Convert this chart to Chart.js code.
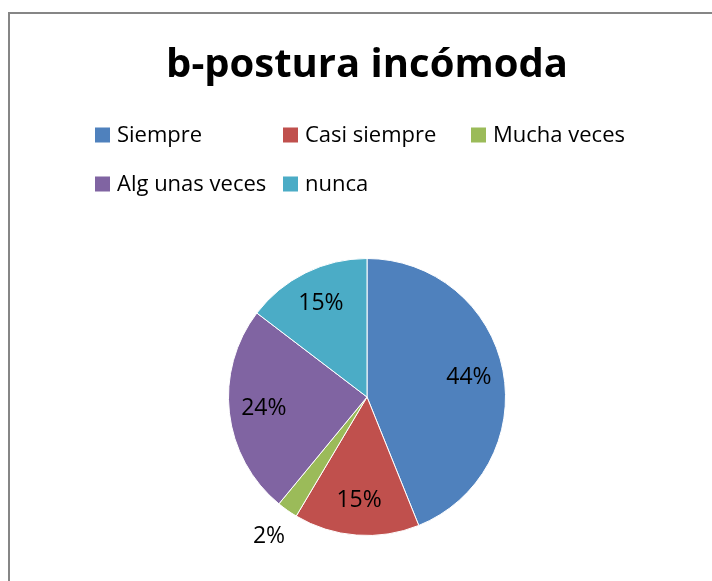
<!DOCTYPE html>
<html lang="es">
<head>
    <meta charset="UTF-8">
    <title>b-postura incómoda</title>
    <script src="https://cdn.jsdelivr.net/npm/chart.js"></script>
    <style>
        body { margin: 0; background: #fff; overflow: hidden; }
        #frame { position: absolute; left: 8px; top: 12px; width: 760px; height: 640px;
                 border-left: 2px solid #868686; border-top: 2px solid #868686; }
        #chart { position: absolute; left: 0; top: 0; }
    </style>
</head>
<body>
    <div id="frame"></div>
    <canvas id="chart" width="712" height="581"></canvas>

    <script>
        // answers (counts)
        const categories = ['Siempre', 'Casi siempre', 'Mucha veces', 'Alg unas veces', 'nunca'];
        const counts = [18, 6, 1, 10, 6];
        const colors = ['#4F81BD', '#C0504D', '#9BBB59', '#8064A2', '#4BACC6'];

        const total = counts.reduce((a, b) => a + b, 0);

        // excel-like legend: fixed columns, wraps after three
        const gridLegend = {
            id: 'gridLegend',
            afterDraw(chart) {
                const items = Chart.overrides.pie.plugins.legend.labels.generateLabels(chart);
                const ctx = chart.ctx;
                ctx.save();
                ctx.font = '22px "Open Sans"';
                ctx.textBaseline = 'middle';
                ctx.textAlign = 'left';
                let prevEnd = 0;
                items.forEach((it, i) => {
                    const col = i % 3, row = Math.floor(i / 3);
                    if (col === 0) prevEnd = 0;
                    const x = Math.max(95 + col * 188, prevEnd + 6);
                    const y = 135 + row * 49;
                    ctx.fillStyle = it.fillStyle;
                    ctx.fillRect(x, y - 7.5, 15, 15);
                    ctx.fillStyle = '#000';
                    ctx.fillText(it.text, x + 22, y + 1);
                    prevEnd = x + 22 + ctx.measureText(it.text).width;
                });
                ctx.restore();
            }
        };

        // percentage labels on the slices
        const sliceLabels = {
            id: 'sliceLabels',
            afterDatasetsDraw(chart) {
                const ctx = chart.ctx;
                const meta = chart.getDatasetMeta(0);
                ctx.save();
                ctx.font = '23px "Open Sans"';
                ctx.fillStyle = '#000';
                ctx.textAlign = 'center';
                ctx.textBaseline = 'middle';
                meta.data.forEach((arc, i) => {
                    const p = arc.getProps(['x', 'y', 'startAngle', 'endAngle', 'outerRadius']);
                    const mid = (p.startAngle + p.endAngle) / 2;
                    const share = counts[i] / total;
                    const r = p.outerRadius * (share < 0.05 ? 1.23 : 0.75);
                    const txt = Math.round(share * 100) + '%';
                    ctx.fillText(txt, p.x + Math.cos(mid) * r, p.y + Math.sin(mid) * r);
                });
                ctx.restore();
            }
        };

        new Chart(document.getElementById('chart').getContext('2d'), {
            type: 'pie',
            data: {
                labels: categories,
                datasets: [{
                    data: counts,
                    backgroundColor: colors,
                    borderColor: '#fff',
                    borderWidth: 1
                }]
            },
            options: {
                responsive: false,
                animation: false,
                layout: { padding: { left: 22, right: 0, top: 0, bottom: 45 } },
                plugins: {
                    legend: { display: false },
                    tooltip: { enabled: false },
                    title: {
                        display: true,
                        text: 'b-postura incómoda',
                        color: '#000',
                        font: { family: '"Open Sans"', size: 40, weight: 'bold', lineHeight: 1.2 },
                        padding: { top: 42, bottom: 168 }
                    }
                }
            },
            plugins: [gridLegend, sliceLabels]
        });
    </script>
</body>
</html>
